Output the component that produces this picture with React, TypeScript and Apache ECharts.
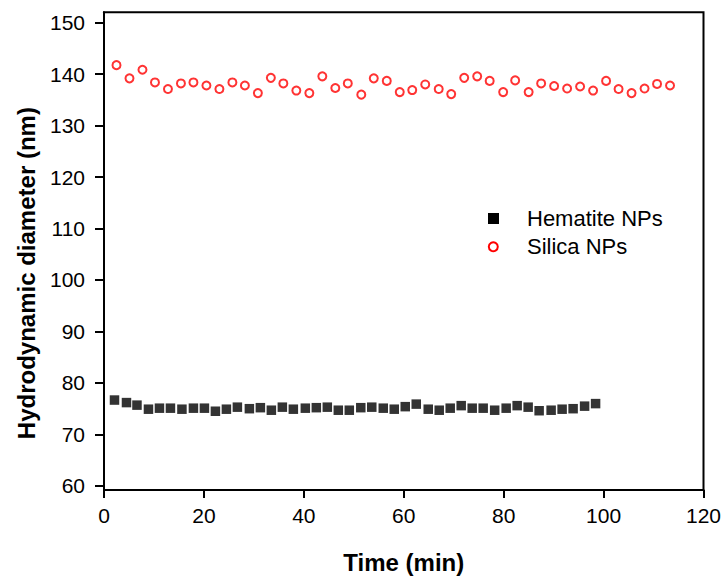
import React, { useEffect, useRef } from "react";
import * as echarts from "echarts";

const hematiteTime = [2.1, 4.5, 6.6, 8.9, 11.1, 13.3, 15.6, 17.9, 20.1, 22.3, 24.5, 26.7, 29.1, 31.3, 33.5, 35.7, 37.9, 40.3, 42.5, 44.7, 46.9, 49.1, 51.4, 53.6, 55.9, 58.1, 60.3, 62.5, 64.9, 67.1, 69.3, 71.5, 73.7, 75.9, 78.2, 80.5, 82.7, 84.9, 87.1, 89.5, 91.7, 93.9, 96.2, 98.4];
const hematiteSize = [75.7, 75.2, 74.7, 73.9, 74.1, 74.1, 73.9, 74.1, 74.1, 73.5, 73.9, 74.3, 74.0, 74.2, 73.7, 74.3, 73.9, 74.1, 74.2, 74.3, 73.7, 73.7, 74.2, 74.3, 74.1, 73.9, 74.4, 74.9, 73.9, 73.7, 74.1, 74.6, 74.1, 74.1, 73.7, 74.1, 74.6, 74.3, 73.6, 73.7, 73.9, 74.0, 74.5, 75.0];

const silicaTime = [2.5, 5.1, 7.7, 10.2, 12.8, 15.4, 17.9, 20.5, 23.1, 25.7, 28.2, 30.8, 33.4, 35.9, 38.5, 41.1, 43.7, 46.3, 48.8, 51.5, 54.0, 56.6, 59.2, 61.7, 64.3, 67.0, 69.5, 72.1, 74.7, 77.2, 79.9, 82.3, 85.0, 87.5, 90.1, 92.7, 95.3, 97.9, 100.5, 103.0, 105.6, 108.2, 110.7, 113.3];
const silicaSize = [141.6, 139.0, 140.7, 138.2, 136.9, 138.0, 138.2, 137.6, 136.9, 138.2, 137.6, 136.1, 139.1, 138.0, 136.6, 136.1, 139.4, 137.1, 138.0, 135.8, 139.0, 138.5, 136.3, 136.7, 137.8, 136.9, 135.9, 139.1, 139.4, 138.5, 136.3, 138.6, 136.3, 138.0, 137.5, 137.0, 137.4, 136.6, 138.5, 136.9, 136.1, 137.0, 137.9, 137.6];

const seriesNames = ["Hematite NPs", "Silica NPs"];
const xTitle = "Time (min)";
const yTitle = "Hydrodynamic diameter (nm)";

const FONT = "'Liberation Sans', Arial, sans-serif";

export default function App() {
  const ref = useRef<HTMLDivElement>(null);
  useEffect(() => {
    if (!ref.current) return;
    const chart = echarts.init(ref.current, null, { renderer: "svg" });
    const hem = hematiteTime.map((t, i) => [t, hematiteSize[i]]);
    const sil = silicaTime.map((t, i) => [t, silicaSize[i]]);
    chart.setOption({
      animation: false,
      backgroundColor: "#ffffff",
      textStyle: { fontFamily: FONT },
      grid: [
        { left: 104, right: 21.5, top: 12.3, bottom: 82.7, show: true, borderColor: "#000", borderWidth: 2, backgroundColor: "transparent" },
        { left: 104, right: 21.5, top: 22.7, bottom: 93.3, show: false },
      ],
      xAxis: [
        {
          type: "value", gridIndex: 0, min: 0, max: 120, interval: 20,
          name: xTitle, nameLocation: "middle", nameGap: 60,
          nameTextStyle: { fontSize: 24, fontWeight: "bold", color: "#000", fontFamily: FONT },
          axisLine: { show: true, lineStyle: { color: "#000", width: 2 } },
          axisTick: { show: true, inside: false, length: 8, lineStyle: { color: "#000", width: 2 } },
          axisLabel: { fontSize: 21, color: "#000", margin: 15, fontFamily: FONT },
          splitLine: { show: false },
        },
        { type: "value", gridIndex: 1, min: 0, max: 120, show: false },
      ],
      yAxis: [
        {
          type: "value", gridIndex: 0, min: 58, max: 152,
          name: yTitle, nameLocation: "middle", nameGap: 66, nameRotate: 90,
          nameTextStyle: { fontSize: 24, fontWeight: "bold", color: "#000", fontFamily: FONT, padding: [0, 44, 0, 0] },
          axisLine: { show: true, lineStyle: { color: "#000", width: 2 } },
          axisTick: { show: false },
          axisLabel: { show: false },
          splitLine: { show: false },
        },
        {
          type: "value", gridIndex: 1, min: 60, max: 150, interval: 10,
          axisLine: { show: false },
          axisTick: { show: true, inside: false, length: 9, lineStyle: { color: "#000", width: 2 } },
          axisLabel: { fontSize: 21, color: "#000", margin: 19, fontFamily: FONT },
          splitLine: { show: false },
        },
      ],
      series: [
        {
          name: seriesNames[0], type: "scatter", xAxisIndex: 0, yAxisIndex: 0,
          symbol: "rect", symbolSize: 9.5, data: hem,
          itemStyle: { color: "#000", borderWidth: 0 },
        },
        {
          name: seriesNames[1], type: "scatter", xAxisIndex: 0, yAxisIndex: 0,
          symbol: "circle", symbolSize: 8, data: sil,
          itemStyle: { color: "#fff", borderColor: "#ff0000", borderWidth: 2 },
        },
      ],
      graphic: [
        { type: "rect", shape: { x: 488, y: 213, width: 11, height: 11 }, style: { fill: "#000" } },
        { type: "circle", shape: { cx: 493.3, cy: 246.7, r: 4.5 }, style: { fill: "#fff", stroke: "#ff0000", lineWidth: 2 } },
        { type: "text", x: 527, y: 218.5, style: { text: seriesNames[0], fontSize: 22, fontFamily: FONT, fill: "#000", align: "left", verticalAlign: "middle" } },
        { type: "text", x: 527, y: 246.7, style: { text: seriesNames[1], fontSize: 22, fontFamily: FONT, fill: "#000", align: "left", verticalAlign: "middle" } },
      ],
    });
    return () => chart.dispose();
  }, []);
  return <div ref={ref} style={{ position: "fixed", left: 0, top: 0, width: 725, height: 579 }} />;
}
